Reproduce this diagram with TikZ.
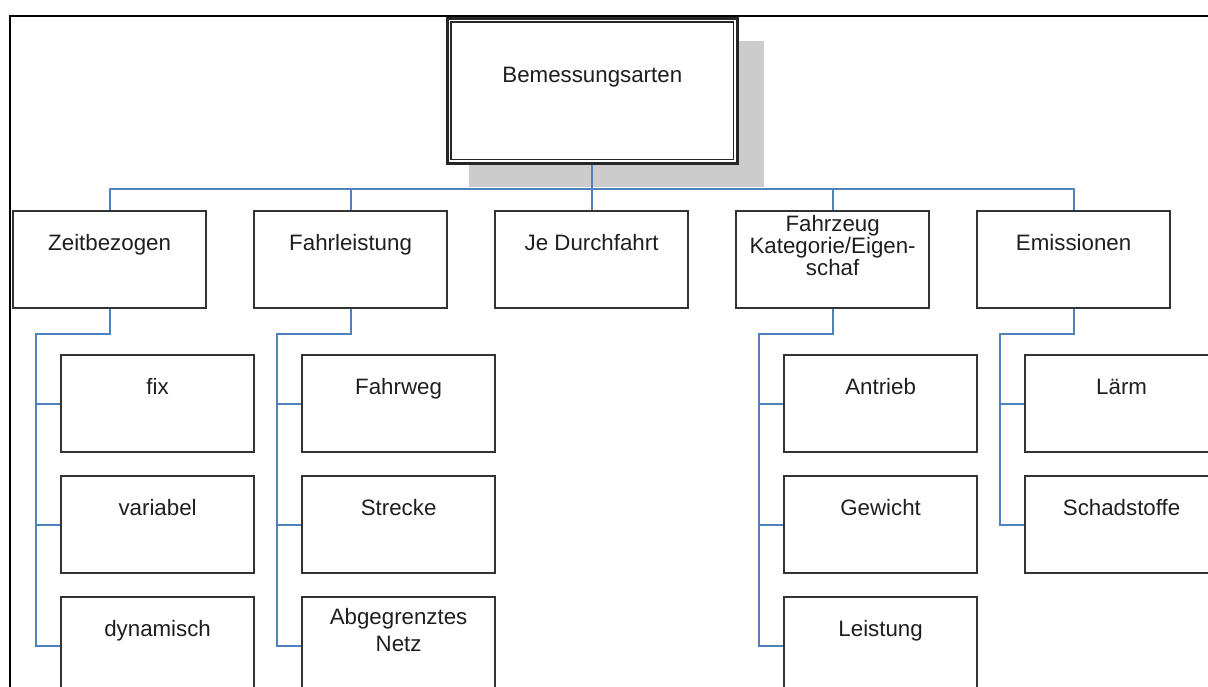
\documentclass[tikz,border=0pt]{standalone}
\usepackage{fontspec}
\setmainfont{Liberation Sans}
\usetikzlibrary{backgrounds}
\definecolor{linkblue}{HTML}{4F81BD}
\definecolor{boxline}{HTML}{333333}
\definecolor{txt}{HTML}{1E1E1E}
\definecolor{shadowgray}{HTML}{CCCCCC}
\begin{document}
\begin{tikzpicture}[x=1pt,y=-1pt,
  box/.style={draw=boxline, line width=2.2pt, rectangle, anchor=north west,
    minimum width=193pt, minimum height=97pt, inner sep=0pt},
  lbl/.style={font=\fontsize{22.3}{22}\selectfont, text=txt, inner sep=0pt,
    anchor=center, align=center},
  one/.style={lbl, text height=16pt, text depth=5pt},
  link/.style={draw=linkblue, line width=2.1pt}]
\useasboundingbox (0,0) rectangle (1208,686);
\clip (0,0) rectangle (1208,686);

% outer frame
\draw[line width=2.4pt] (10,690) -- (10,16) -- (1212,16);

% root box with double border and shadow
\node[box, draw=black!85, line width=2.6pt, fill=white,
  minimum width=290pt, minimum height=145pt] (root) at (446,17) {};
\draw[black!85, line width=1.6pt]
  ([shift={(5,5)}]root.north west) rectangle ([shift={(-5,-5)}]root.south east);
\node[one] (root-t) at ([yshift=-59.5pt]root.north) {Bemessungsarten};
\begin{pgfonlayer}{background}
  \fill[shadowgray] ([shift={(23,24)}]root.north west)
    rectangle ([shift={(25,22)}]root.south east);
\end{pgfonlayer}

% first level
\node[box] (zeit)  at (12,210)  {};
\node[box] (fahr)  at (253,210) {};
\node[box] (durch) at (494,210) {};
\node[box] (fzg)   at (735,210) {};
\node[box] (emi)   at (976,210) {};
\node[one] (zeit-t)  at ([yshift=-34.5pt]zeit.north)  {Zeitbezogen};
\node[one] (fahr-t)  at ([yshift=-34.5pt]fahr.north)  {Fahrleistung};
\node[one] (durch-t) at ([yshift=-34.5pt]durch.north) {Je Durchfahrt};
\node[lbl] (fzg-t)   at ([yshift=-36pt]fzg.north)
  {Fahrzeug\\Kategorie/Eigen-\\schaf};
\node[one] (emi-t)   at ([yshift=-34.5pt]emi.north)  {Emissionen};

% second level
\node[box] (zeit-1) at (60,354) {};
\node[box] (zeit-2) at (60,475) {};
\node[box] (zeit-3) at (60,596) {};
\node[box] (fahr-1) at (301,354) {};
\node[box] (fahr-2) at (301,475) {};
\node[box] (fahr-3) at (301,596) {};
\node[box] (fzg-1) at (783,354) {};
\node[box] (fzg-2) at (783,475) {};
\node[box] (fzg-3) at (783,596) {};
\node[box] (emi-1) at (1024,354) {};
\node[box] (emi-2) at (1024,475) {};

\node[one] (zeit-1-t) at ([yshift=-34.5pt]zeit-1.north) {fix};
\node[one] (zeit-2-t) at ([yshift=-34.5pt]zeit-2.north) {variabel};
\node[one] (zeit-3-t) at ([yshift=-34.5pt]zeit-3.north) {dynamisch};
\node[one] (fahr-1-t) at ([yshift=-34.5pt]fahr-1.north) {Fahrweg};
\node[one] (fahr-2-t) at ([yshift=-34.5pt]fahr-2.north) {Strecke};
\node[lbl, font=\fontsize{22.3}{27}\selectfont] (fahr-3-t)
  at ([yshift=-34pt]fahr-3.north) {Abgegrenztes\\Netz};
\node[one] (fzg-1-t) at ([yshift=-34.5pt]fzg-1.north) {Antrieb};
\node[one] (fzg-2-t) at ([yshift=-34.5pt]fzg-2.north) {Gewicht};
\node[one] (fzg-3-t) at ([yshift=-34.5pt]fzg-3.north) {Leistung};
\node[one] (emi-1-t) at ([yshift=-34.5pt]emi-1.north) {Lärm};
\node[one] (emi-2-t) at ([yshift=-34.5pt]emi-2.north) {Schadstoffe};

% connectors from the root
\coordinate (hub) at ([yshift=-24pt]root.south);
\foreach \n in {zeit,fahr,durch,fzg,emi}
  \draw[link] (root.south) -- (hub) -| (\n.north);

% connectors to the second level
\foreach \p/\k in {zeit/3,fahr/3,fzg/3,emi/2} {
  \coordinate (\p-bus) at ([xshift=24pt,yshift=-25pt]\p.south west);
  \foreach \i in {1,...,\k}
    \draw[link] (\p.south) |- (\p-bus) |- (\p-\i.west);
}
\end{tikzpicture}
\end{document}
